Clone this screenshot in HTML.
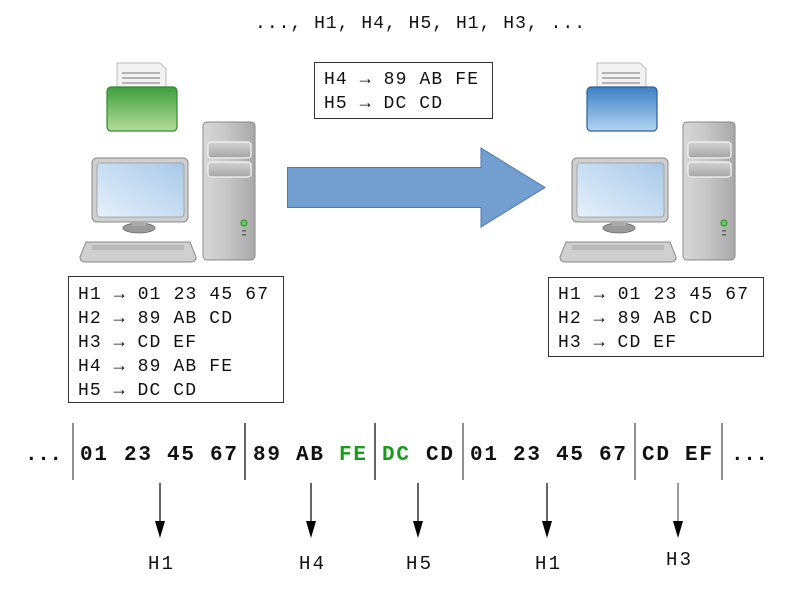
<!DOCTYPE html>
<html><head><meta charset="utf-8"><style>
html,body{margin:0;padding:0;background:#fff;width:794px;height:608px;overflow:hidden}
svg{display:block}
.m{font-family:"Liberation Mono",monospace;font-size:18px;fill:#111}
.b{font-family:"Liberation Mono",monospace;font-size:21px;font-weight:bold;fill:#111}
</style></head><body>
<svg width="794" height="608" viewBox="0 0 794 608" xmlns="http://www.w3.org/2000/svg">
<defs>
<linearGradient id="gG" x1="0" y1="0" x2="0" y2="1"><stop offset="0" stop-color="#3f9e3f"/><stop offset="1" stop-color="#b5dc9a"/></linearGradient>
<linearGradient id="gB" x1="0" y1="0" x2="0" y2="1"><stop offset="0" stop-color="#3d7fc4"/><stop offset="1" stop-color="#b3d4f0"/></linearGradient>
<linearGradient id="scr" x1="0" y1="1" x2="1" y2="0"><stop offset="0" stop-color="#e6f0fa"/><stop offset="1" stop-color="#a9c9e9"/></linearGradient>
<linearGradient id="gray" x1="0" y1="0" x2="1" y2="0"><stop offset="0" stop-color="#d8d8d8"/><stop offset="0.5" stop-color="#c4c4c4"/><stop offset="1" stop-color="#a8a8a8"/></linearGradient>
<linearGradient id="bay" x1="0" y1="0" x2="0" y2="1"><stop offset="0" stop-color="#d2d2d2"/><stop offset="1" stop-color="#a5a5a5"/></linearGradient>
<g id="pc">
  <path d="M117 63 H160 L166 69 V92 H117 Z" fill="#f2f2f2" stroke="#bbb" stroke-width="1"/>
  <line x1="122" y1="73" x2="160" y2="73" stroke="#777"/>
  <line x1="122" y1="78" x2="160" y2="78" stroke="#777"/>
  <line x1="122" y1="83" x2="160" y2="83" stroke="#777"/>
  <rect x="203" y="122" width="52" height="138" rx="4" fill="url(#gray)" stroke="#888"/>
  <rect x="208" y="142" width="43" height="16" rx="3" fill="url(#bay)" stroke="#f5f5f5" stroke-width="1.2"/>
  <rect x="208" y="162" width="43" height="15" rx="3" fill="url(#bay)" stroke="#f5f5f5" stroke-width="1.2"/>
  <circle cx="244" cy="223" r="3" fill="#5bd25b" stroke="#2a8a2a"/>
  <rect x="242" y="230" width="4" height="1.5" fill="#666"/>
  <rect x="242" y="234" width="4" height="1.5" fill="#666"/>
  <rect x="92" y="158" width="96" height="64" rx="5" fill="#cfcfcf" stroke="#888"/>
  <rect x="97" y="163" width="87" height="54" rx="3" fill="url(#scr)" stroke="#999" stroke-width="0.8"/>
  <ellipse cx="139" cy="228" rx="16" ry="5" fill="#9a9a9a" stroke="#666" stroke-width="0.8"/>
  <rect x="132" y="221" width="14" height="5" fill="#aaa"/>
  <path d="M86 242 H190 L196 257 Q196 262 190 262 H86 Q80 262 80 257 Z" fill="#d0d0d0" stroke="#888"/>
  <rect x="92" y="245" width="92" height="5" fill="#b8b8b8"/>
</g>
</defs>
<text class="m" x="255" y="28" textLength="330">..., H1, H4, H5, H1, H3, ...</text>

<use href="#pc"/>
<rect x="107" y="87" width="70" height="44" rx="4" fill="url(#gG)" stroke="#2e8b2e" stroke-width="1.2"/>
<use href="#pc" transform="translate(480,0)"/>
<rect x="587" y="87" width="70" height="44" rx="4" fill="url(#gB)" stroke="#2c5f9a" stroke-width="1.2"/>

<rect x="314.5" y="62.5" width="178" height="56" fill="#fff" stroke="#333"/>
<text class="m" x="324" y="84" textLength="154">H4 → 89 AB FE</text>
<text class="m" x="324" y="108" textLength="118">H5 → DC CD</text>

<path d="M287.5 167.5 H481 V148 L545 187.5 L481 227 V207.5 H287.5 Z" fill="#729fcf" stroke="#4a78b0" stroke-width="1"/>

<rect x="68.5" y="276.5" width="215" height="126" fill="#fff" stroke="#333"/>
<text class="m" x="78" y="299" textLength="190">H1 → 01 23 45 67</text>
<text class="m" x="78" y="323" textLength="154">H2 → 89 AB CD</text>
<text class="m" x="78" y="347" textLength="118">H3 → CD EF</text>
<text class="m" x="78" y="371" textLength="154">H4 → 89 AB FE</text>
<text class="m" x="78" y="395" textLength="118">H5 → DC CD</text>

<rect x="548.5" y="277.5" width="215" height="79" fill="#fff" stroke="#333"/>
<text class="m" x="558" y="299" textLength="190">H1 → 01 23 45 67</text>
<text class="m" x="558" y="323" textLength="154">H2 → 89 AB CD</text>
<text class="m" x="558" y="347" textLength="118">H3 → CD EF</text>

<g class="b">
<text x="25" y="460" textLength="37">...</text>
<text x="80" y="460" textLength="27">01</text>
<text x="124" y="460" textLength="27">23</text>
<text x="167" y="460" textLength="27">45</text>
<text x="210" y="460" textLength="27">67</text>
<text x="253" y="460" textLength="27">89</text>
<text x="296" y="460" textLength="27">AB</text>
<text x="339" y="460" textLength="27" style="fill:#1a9a1a">FE</text>
<text x="382" y="460" textLength="27" style="fill:#1a9a1a">DC</text>
<text x="426" y="460" textLength="27">CD</text>
<text x="470" y="460" textLength="27">01</text>
<text x="513" y="460" textLength="27">23</text>
<text x="556" y="460" textLength="27">45</text>
<text x="599" y="460" textLength="27">67</text>
<text x="642" y="460" textLength="27">CD</text>
<text x="685" y="460" textLength="27">EF</text>
<text x="731" y="460" textLength="37">...</text>
</g>
<g stroke="#555" stroke-width="1.3">
<line x1="73" y1="423" x2="73" y2="480"/>
<line x1="245" y1="423" x2="245" y2="480" stroke="#111"/>
<line x1="375" y1="423" x2="375" y2="480" stroke="#111"/>
<line x1="463" y1="423" x2="463" y2="480"/>
<line x1="635" y1="423" x2="635" y2="480"/>
<line x1="722" y1="423" x2="722" y2="480"/>
</g>
<g stroke="#000" stroke-width="1.2">
<line x1="160" y1="483" x2="160" y2="525"/>
<line x1="311" y1="483" x2="311" y2="525"/>
<line x1="418" y1="483" x2="418" y2="525"/>
<line x1="547" y1="483" x2="547" y2="525"/>
<line x1="678" y1="483" x2="678" y2="525" stroke="#555"/>
</g>
<g fill="#000">
<path d="M155 521 H165 L160 538 Z"/>
<path d="M306 521 H316 L311 538 Z"/>
<path d="M413 521 H423 L418 538 Z"/>
<path d="M542 521 H552 L547 538 Z"/>
<path d="M673 521 H683 L678 538 Z"/>
</g>
<g class="m" style="font-size:19px">
<text x="148" y="569" textLength="25">H1</text>
<text x="299" y="569" textLength="25">H4</text>
<text x="406" y="569" textLength="25">H5</text>
<text x="535" y="569" textLength="25">H1</text>
<text x="666" y="565" textLength="25">H3</text>
</g>
</svg>
</body></html>
